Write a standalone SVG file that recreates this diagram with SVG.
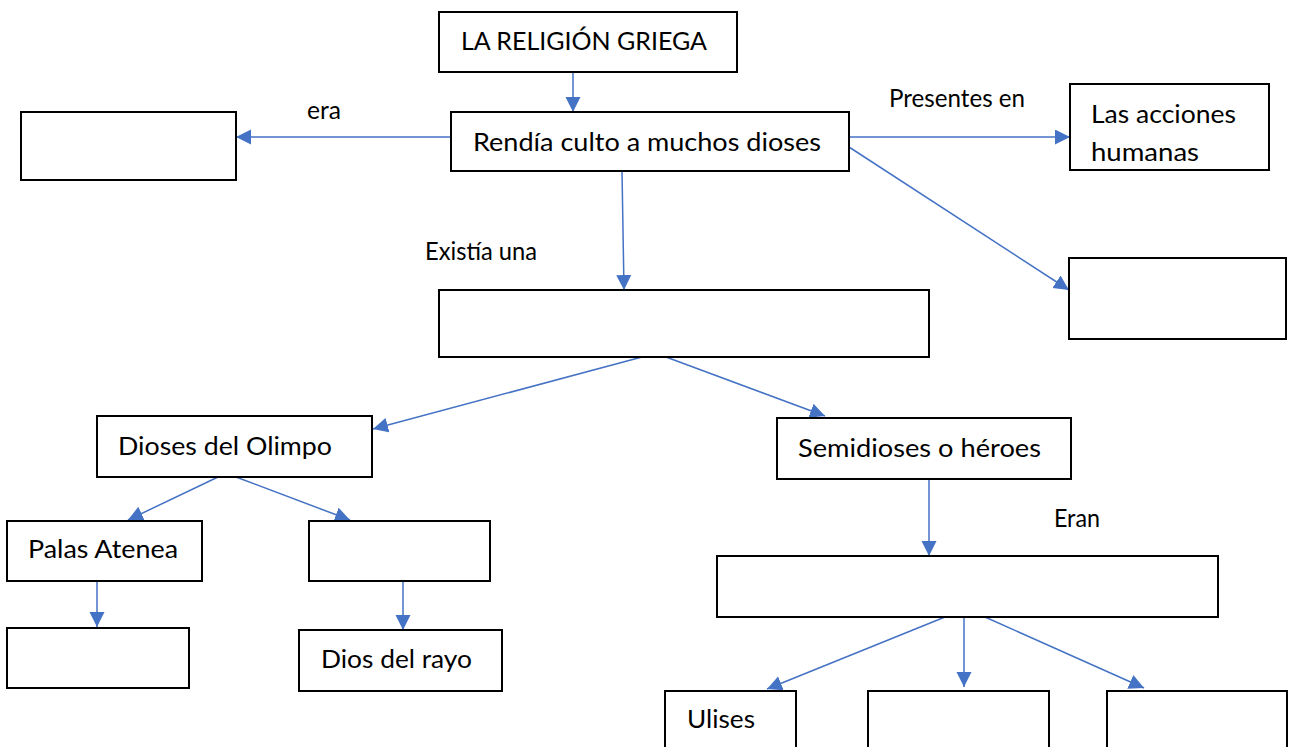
<svg xmlns="http://www.w3.org/2000/svg" width="1291" height="747" viewBox="0 0 1291 747">
<style>
.box{fill:#fff;stroke:#000;stroke-width:2}
.t{font-family:Lato,"Open Sans","Liberation Sans",sans-serif;font-size:25px;fill:#000}
.c{fill:none;stroke:#4472C4;stroke-width:1.5;marker-end:url(#ah)}
</style>
<defs>
<marker id="ah" markerUnits="userSpaceOnUse" markerWidth="16" markerHeight="16" refX="15" refY="7.5" orient="auto">
<path d="M0,0 L15,7.5 L0,15 z" fill="#4472C4"/>
</marker>
</defs>
<rect width="1291" height="747" fill="#fff"/>
<g id="connectors">
<line class="c" x1="573" y1="72" x2="573" y2="112"/>
<line class="c" x1="451" y1="137" x2="236" y2="137"/>
<line class="c" x1="849" y1="137" x2="1070" y2="137"/>
<line class="c" x1="849" y1="147" x2="1069" y2="290"/>
<line class="c" x1="622" y1="171" x2="624" y2="290"/>
<line class="c" x1="642" y1="357" x2="373" y2="429"/>
<line class="c" x1="666" y1="357" x2="825" y2="416"/>
<line class="c" x1="218" y1="477" x2="128" y2="520"/>
<line class="c" x1="236" y1="477" x2="350" y2="520"/>
<line class="c" x1="97" y1="581" x2="97" y2="627"/>
<line class="c" x1="403" y1="581" x2="403" y2="630"/>
<line class="c" x1="929" y1="479" x2="929" y2="556"/>
<line class="c" x1="945" y1="617" x2="767" y2="689"/>
<line class="c" x1="964" y1="617" x2="964" y2="687"/>
<line class="c" x1="985" y1="617" x2="1144" y2="688"/>
</g>
<g id="n-religion"><rect class="box" x="439" y="12" width="298" height="60"/><text class="t" x="461" y="50" textLength="246" lengthAdjust="spacingAndGlyphs">LA RELIGIÓN GRIEGA</text></g>
<g id="n-culto"><rect class="box" x="451" y="112" width="398" height="59"/><text class="t" x="473" y="151" textLength="348" lengthAdjust="spacingAndGlyphs">Rendía culto a muchos dioses</text></g>
<g id="n-era"><rect class="box" x="21" y="112" width="215" height="68"/></g>
<g id="l-era"><text class="t" x="307" y="119" textLength="34" lengthAdjust="spacingAndGlyphs">era</text></g>
<g id="l-presentes"><text class="t" x="889" y="107" textLength="136" lengthAdjust="spacingAndGlyphs">Presentes en</text></g>
<g id="n-acciones"><rect class="box" x="1070" y="84" width="199" height="86"/><text class="t" x="1091" y="123" textLength="145" lengthAdjust="spacingAndGlyphs">Las acciones</text><text class="t" x="1091" y="161" textLength="108" lengthAdjust="spacingAndGlyphs">humanas</text></g>
<g id="n-blank-right"><rect class="box" x="1069" y="258" width="217" height="81"/></g>
<g id="l-existia"><text class="t" x="425" y="260" textLength="112" lengthAdjust="spacingAndGlyphs">Existía una</text></g>
<g id="n-mid"><rect class="box" x="439" y="290" width="490" height="67"/></g>
<g id="n-olimpo"><rect class="box" x="97" y="416" width="275" height="61"/><text class="t" x="118" y="455" textLength="214" lengthAdjust="spacingAndGlyphs">Dioses del Olimpo</text></g>
<g id="n-semidioses"><rect class="box" x="777" y="418" width="294" height="61"/><text class="t" x="798" y="457" textLength="243" lengthAdjust="spacingAndGlyphs">Semidioses o héroes</text></g>
<g id="n-palas"><rect class="box" x="7" y="521" width="195" height="60"/><text class="t" x="28" y="558" textLength="150" lengthAdjust="spacingAndGlyphs">Palas Atenea</text></g>
<g id="n-blank-olimpo"><rect class="box" x="309" y="521" width="181" height="60"/></g>
<g id="n-blank-palas"><rect class="box" x="7" y="628" width="182" height="60"/></g>
<g id="n-rayo"><rect class="box" x="299" y="630" width="203" height="61"/><text class="t" x="321" y="668" textLength="151" lengthAdjust="spacingAndGlyphs">Dios del rayo</text></g>
<g id="l-eran"><text class="t" x="1054" y="527" textLength="46" lengthAdjust="spacingAndGlyphs">Eran</text></g>
<g id="n-eran"><rect class="box" x="717" y="556" width="501" height="61"/></g>
<g id="n-ulises"><rect class="box" x="665" y="691" width="131" height="70"/><text class="t" x="687" y="728" textLength="68" lengthAdjust="spacingAndGlyphs">Ulises</text></g>
<g id="n-hero2"><rect class="box" x="868" y="691" width="181" height="70"/></g>
<g id="n-hero3"><rect class="box" x="1107" y="691" width="180" height="70"/></g>
</svg>
